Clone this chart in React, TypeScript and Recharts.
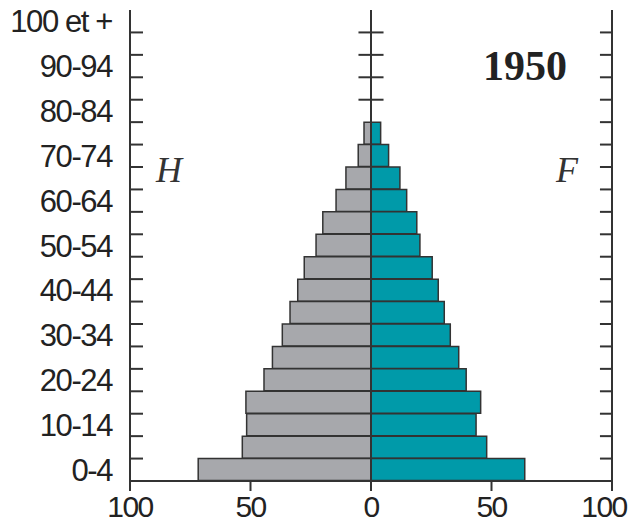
import React from 'react';
import { BarChart, Bar, XAxis, YAxis, ReferenceLine } from 'recharts';

// Age groups, from youngest to oldest
const ages = ['0-4', '5-9', '10-14', '15-19', '20-24', '25-29', '30-34', '35-39', '40-44', '45-49',
  '50-54', '55-59', '60-64', '65-69', '70-74', '75-79', '80-84', '85-89', '90-94', '95-99', '100 et +'];
// Hommes (left side)
const men = [71.7, 53.4, 51.6, 51.9, 44.4, 40.9, 36.8, 33.6, 30.4, 27.7,
  22.8, 20.0, 14.5, 10.4, 5.3, 2.9, 0, 0, 0, 0, 0];
// Femmes (right side)
const women = [63.8, 48.0, 43.6, 45.5, 39.5, 36.4, 32.9, 30.4, 27.9, 25.4,
  20.3, 19.0, 14.8, 12.0, 7.3, 4.0, 0, 0, 0, 0, 0];
const xTicks = [-100, -50, 0, 50, 100];
const title = '1950';
const leftLabel = 'H';
const rightLabel = 'F';

const data = ages.map((age, i) => ({ age, men: -men[i], women: women[i] })).reverse();
const topAge = ages[ages.length - 1];
const boundaryAges = ages.filter((a) => a !== topAge);
const emptyAges = ages.filter((a, i) => a !== topAge && men[i] === 0 && women[i] === 0);

const INK = '#333';
const yTickFont = { fontFamily: '"Liberation Sans", sans-serif', fontSize: 31, fill: '#222', letterSpacing: -1.4 };

function XTick(props: any) {
  const { x, y, payload } = props;
  const v = payload.value as number;
  const shift = v === 100 ? -8 : 0;
  return (
    <text
      x={x + shift}
      y={y}
      dy="0.71em"
      textAnchor="middle"
      fontFamily='"Liberation Sans", sans-serif'
      fontSize={30}
      letterSpacing={-1.6}
      fill="#222"
    >
      {String(Math.abs(v))}
    </text>
  );
}

export default function App() {
  return (
    <div style={{ position: 'absolute', left: 0, top: 0, width: 633, height: 529 }}>
      <BarChart
        width={633}
        height={529}
        data={data}
        layout="vertical"
        stackOffset="sign"
        barCategoryGap={0}
        margin={{ top: 10, right: 0, bottom: 0, left: 0 }}
      >
        <XAxis
          type="number"
          domain={[-100, 100]}
          ticks={xTicks}
          height={48}
          tickSize={10}
          tickMargin={5}
          tick={XTick}
          axisLine={{ stroke: INK, strokeWidth: 2 }}
          tickLine={{ stroke: INK, strokeWidth: 2 }}
          allowDataOverflow
        />
        <XAxis
          xAxisId="top"
          orientation="top"
          type="number"
          domain={[-100, 100]}
          height={0}
          tick={false}
          tickLine={false}
          axisLine={{ stroke: INK, strokeWidth: 2 }}
        />
        <YAxis
          type="category"
          dataKey="age"
          width={130}
          interval={1}
          tickSize={0}
          tickMargin={18}
          tickLine={false}
          tick={yTickFont}
          axisLine={{ stroke: INK, strokeWidth: 2 }}
        />
        <YAxis
          yAxisId="right"
          orientation="right"
          type="category"
          dataKey="age"
          width={21}
          tick={false}
          tickLine={false}
          axisLine={{ stroke: INK, strokeWidth: 2 }}
        />
        <Bar dataKey="men" stackId="a" fill="#a7a8ac" stroke={INK} strokeWidth={1.5} isAnimationActive={false} />
        <Bar dataKey="women" stackId="a" fill="#009aa9" stroke={INK} strokeWidth={1.5} isAnimationActive={false} />
        <ReferenceLine x={0} stroke={INK} strokeWidth={2} />
        {boundaryAges.map((a) => (
          <ReferenceLine key={'l' + a} position="start" segment={[{ x: -100, y: a }, { x: -94.6, y: a }]} stroke={INK} strokeWidth={2} />
        ))}
        {boundaryAges.map((a) => (
          <ReferenceLine key={'r' + a} position="start" segment={[{ x: 95, y: a }, { x: 100, y: a }]} stroke={INK} strokeWidth={2} />
        ))}
        {emptyAges.map((a) => (
          <ReferenceLine key={'c' + a} position="start" segment={[{ x: -5.2, y: a }, { x: 5.2, y: a }]} stroke={INK} strokeWidth={2} />
        ))}
      </BarChart>
      <svg width={633} height={529} style={{ position: 'absolute', left: 0, top: 0, pointerEvents: 'none' }}>
        <text x={483} y={80} fontFamily='"Liberation Serif", serif' fontWeight="bold" fontSize={42} fill="#222">{title}</text>
        <text x={156} y={182} fontFamily='"Liberation Serif", serif' fontStyle="italic" fontSize={36} fill="#333">{leftLabel}</text>
        <text x={556} y={182} fontFamily='"Liberation Serif", serif' fontStyle="italic" fontSize={36} fill="#333">{rightLabel}</text>
      </svg>
    </div>
  );
}
